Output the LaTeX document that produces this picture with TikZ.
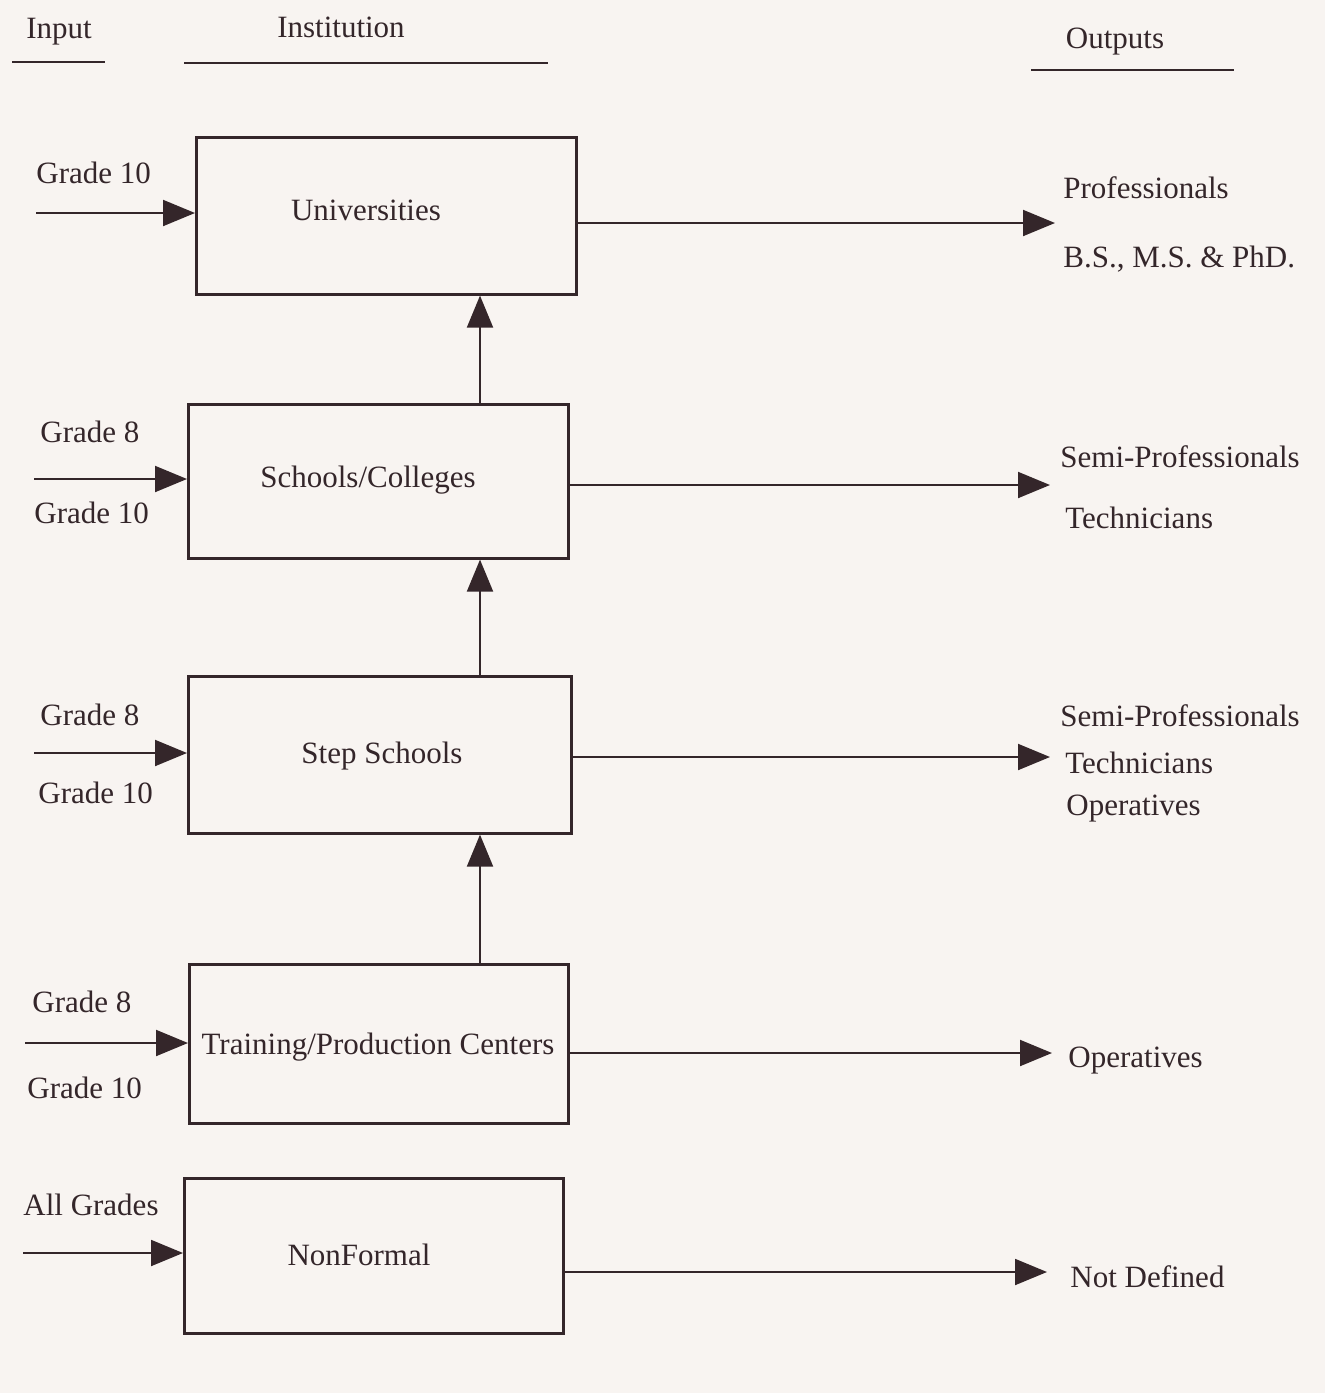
\documentclass[tikz,border=0pt]{standalone}
\usepackage{fontspec}
\setmainfont{Liberation Serif}
\usetikzlibrary{arrows.meta}
\definecolor{ink}{RGB}{52,38,42}
\definecolor{paper}{RGB}{248,244,241}
\begin{document}
\begin{tikzpicture}[x=0.5pt,y=-0.5pt,
  txt/.style={text=ink,font=\fontsize{15.5pt}{18pt}\selectfont,inner sep=0pt},
  lbl/.style={txt,anchor=base west},
  ctr/.style={txt,anchor=base},
  boxnode/.style={draw=ink,line width=1.3pt,inner sep=0pt,anchor=north west},
  arr/.style={draw=ink,line width=1pt,-{Triangle[length=16pt,width=13pt]}},
  uline/.style={draw=ink,line width=0.8pt}
]
\fill[paper] (0,0) rectangle (1325,1393);
\useasboundingbox (0,0) rectangle (1325,1393);

% headers
\node[ctr] (hin) at (59,38) {Input};
\node[ctr] (hinst) at (341,37) {Institution};
\node[ctr] (hout) at (1115,48) {Outputs};
\draw[uline] (12,62) -- (105,62);
\draw[uline] (184,63) -- (548,63);
\draw[uline] (1031,70) -- (1234,70);

% boxes
\node[boxnode,minimum width=190pt,minimum height=78.5pt] (u) at (195,136) {};
\node[boxnode,minimum width=190pt,minimum height=77pt] (s) at (187,403) {};
\node[boxnode,minimum width=191.5pt,minimum height=78.5pt] (st) at (187,675) {};
\node[boxnode,minimum width=189.5pt,minimum height=79.5pt] (t) at (188,963) {};
\node[boxnode,minimum width=189.5pt,minimum height=77.5pt] (n) at (183,1177) {};

% box texts
\node[ctr] (uT) at (366,220) {Universities};
\node[ctr] (sT) at (368,487) {Schools/Colleges};
\node[ctr] (stT) at (382,763) {Step Schools};
\node[ctr] (tT) at (378,1054) {Training/Production Centers};
\node[ctr] (nT) at (359,1265) {NonFormal};

% input labels
\node[lbl] (g1) at (36,183) {Grade 10};
\node[lbl] (g2) at (40,442) {Grade 8};
\node[lbl] (g3) at (34,523) {Grade 10};
\node[lbl] (g4) at (40,725) {Grade 8};
\node[lbl] (g5) at (38,803) {Grade 10};
\node[lbl] (g6) at (32,1012) {Grade 8};
\node[lbl] (g7) at (27,1098) {Grade 10};
\node[lbl] (g8) at (23,1215) {All Grades};

% output labels
\node[lbl] (o1) at (1063,198) {Professionals};
\node[lbl] (o2) at (1063,267) {B.S., M.S. \& PhD.};
\node[lbl] (o3) at (1060,467) {Semi-Professionals};
\node[lbl] (o4) at (1065,528) {Technicians};
\node[lbl] (o5) at (1060,726) {Semi-Professionals};
\node[lbl] (o6) at (1065,773) {Technicians};
\node[lbl] (o7) at (1066,815) {Operatives};
\node[lbl] (o8) at (1068,1067) {Operatives};
\node[lbl] (o9) at (1070,1287) {Not Defined};

% input arrows
\coordinate (iU) at (36,213);
\coordinate (iS) at (34,479);
\coordinate (iSt) at (34,753);
\coordinate (iT) at (25,1043);
\coordinate (iN) at (23,1253);
\draw[arr] (iU) -- (u.west |- iU);
\draw[arr] (iS) -- (s.west |- iS);
\draw[arr] (iSt) -- (st.west |- iSt);
\draw[arr] (iT) -- (t.west |- iT);
\draw[arr] (iN) -- (n.west |- iN);

% output arrows
\coordinate (oU) at (1055,223);
\coordinate (oS) at (1050,485);
\coordinate (oSt) at (1050,757);
\coordinate (oT) at (1052,1053);
\coordinate (oN) at (1047,1272);
\draw[arr] (u.east |- oU) -- (oU);
\draw[arr] (s.east |- oS) -- (oS);
\draw[arr] (st.east |- oSt) -- (oSt);
\draw[arr] (t.east |- oT) -- (oT);
\draw[arr] (n.east |- oN) -- (oN);

% upward arrows
\coordinate (col) at (480,0);
\draw[arr] (s.north -| col) -- (u.south -| col);
\draw[arr] (st.north -| col) -- (s.south -| col);
\draw[arr] (t.north -| col) -- (st.south -| col);
\end{tikzpicture}
\end{document}
